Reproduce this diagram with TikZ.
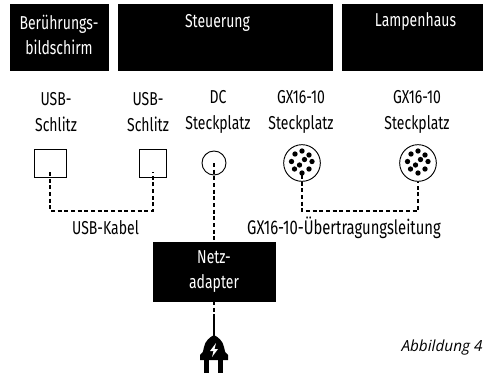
\documentclass[tikz,border=0pt]{standalone}
\usepackage{fontspec}
\setmainfont[FakeStretch=0.75]{Fira Sans}
\newfontfamily\captionfont{Open Sans}
\usetikzlibrary{positioning}

\begin{document}
\begin{tikzpicture}
[
	x=0.75pt,y=-0.75pt,
	blackbox/.style={draw=black,fill=black,text=white,inner sep=0pt,align=center,font=\fontsize{14}{19}\selectfont},
	label/.style={inner sep=0pt,align=center,font=\fontsize{14}{19.5}\selectfont},
	port/.style={draw=black,line width=0.7pt,fill=white,inner sep=0pt},
	cable/.style={very thick,dash pattern=on 3pt off 2pt},
	pin/.style={circle,fill=black,inner sep=0pt,minimum size=4pt}
]
	\useasboundingbox (0,0) rectangle (488,376);

	% top boxes
	\node[blackbox,minimum width=73.5pt,minimum height=49.5pt] at (59,37) (touch) {};
	\node[label,text=white,font=\fontsize{14}{19}\selectfont] at (59,35) (touchtext) {Berührungs-\\bildschirm};
	\node[blackbox,minimum width=160.5pt,minimum height=49.5pt] at (225,37) (control) {};
	\node[label,text=white] at (217.5,23) (controltext) {Steuerung};
	\node[blackbox,minimum width=105pt,minimum height=49.5pt] at (412,37) (lamp) {};
	\node[label,text=white] at (415.5,22) (lamptext) {Lampenhaus};

	% port labels
	\node[label] at (56,112) (lusba) {USB-\\Schlitz};
	\node[label] at (148,112) (lusbb) {USB-\\Schlitz};
	\node[label] at (218,112) (ldc) {DC\\Steckplatz};
	\node[label] at (301,112) (lgxa) {GX16-10\\Steckplatz};
	\node[label] at (417,112) (lgxb) {GX16-10\\Steckplatz};

	% ports
	\node[port,minimum width=24pt,minimum height=21pt] at (50,163) (usba) {};
	\node[port,minimum width=20.25pt,minimum height=21pt] at (152.5,163) (usbb) {};
	\node[port,circle,minimum size=18pt] at (214,163) (dc) {};
	\node[port,circle,minimum size=27.5pt] at (302,163) (gxa) {};
	\node[port,circle,minimum size=27.5pt] at (418,163) (gxb) {};

	% pins
	\foreach \port in {gxa,gxb}
		\foreach \dx/\dy in {0/-10,-7.5/-6,7/-6,-10.5/1.5,-2.5/-2,10/1.5,2.5/3.5,-7/9,7/8,0/12}
			\node[pin] at ([shift={(\dx*0.75pt,\dy*0.75pt)}]\port) {};

	% cables
	\coordinate (usbapin) at (50,172);
	\coordinate (usbbpin) at (153,172);
	\coordinate (dcpin) at (214,163);
	\coordinate (gxapin) at (302,175);
	\coordinate (gxbpin) at (418,182);
	\draw[cable] (usbapin) -- (50,211) -- (153,211) -- (usbbpin);
	\draw[cable] (gxapin) -- (302,211) -- (418,211) -- (gxbpin);

	% adapter
	\node[blackbox,minimum width=91.5pt,minimum height=44pt,font=\fontsize{14}{18.5}\selectfont] at (214,271.5) (adapter) {Netz-\\adapter};
	\draw[cable] (dcpin) -- (adapter.north);
	\node[label] at (105.5,228) (usbkabel) {USB-Kabel};
	\node[label,font=\fontsize{14.8}{19.5}\selectfont] at (344,228) (gxkabel) {GX16-10-Übertragungsleitung};

	% plug
	\coordinate (stemtop) at (214,316);
	\coordinate (stembot) at (214,338);
	\draw[cable] (adapter.south) -- (stemtop);
	\draw[line width=1.8pt] (stemtop) -- (stembot);
	\fill (200,360) -- (200,355) .. controls (203,354) and (203,351) .. (204,347) .. controls (205,341) and (210,337) .. (214,335) .. controls (218,337) and (223,341) .. (224,347) .. controls (225,351) and (225,354) .. (228,355) -- (228,360) -- cycle;
	\fill (204,359) rectangle (209,373);
	\fill (218,359) rectangle (223,373);
	\fill[white] (216,343) -- (210,351) -- (213.5,351) -- (212,357) -- (218,349) -- (214.5,349) -- cycle;

	% caption
	\node[inner sep=0pt,font=\captionfont\itshape\fontsize{11.5}{12}\selectfont] at (442,348) (caption) {Abbildung 4};

\end{tikzpicture}
\end{document}
